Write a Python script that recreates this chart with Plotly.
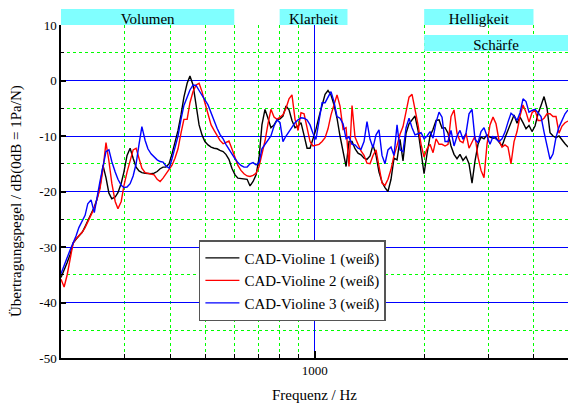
import plotly.graph_objects as go

# Frequency grid (Hz) read along the logarithmic axis
freq_hz = [
    200, 204, 208, 212, 216, 220, 224, 229, 233, 237,
    242, 247, 251, 256, 261, 266, 271, 276, 282, 287,
    293, 298, 304, 310, 316, 322, 328, 334, 341, 347,
    354, 361, 368, 375, 382, 389, 397, 404, 412, 420,
    428, 436, 445, 453, 462, 471, 480, 489, 498, 508,
    518, 528, 538, 548, 559, 569, 580, 591, 603, 614,
    626, 638, 651, 663, 676, 689, 702, 715, 729, 743,
    757, 772, 787, 802, 817, 833, 849, 865, 882, 899,
    916, 934, 952, 970, 988, 1007, 1027, 1047, 1067, 1087,
    1108, 1129, 1151, 1173, 1196, 1219, 1242, 1266, 1290, 1315,
    1340, 1366, 1392, 1419, 1446, 1474, 1502, 1531, 1560, 1590,
    1621, 1652, 1684, 1716, 1749, 1783, 1817, 1852, 1887, 1924,
    1961, 1999, 2037, 2076, 2116, 2157, 2198, 2240, 2283, 2327,
    2371, 2417, 2463, 2510, 2558, 2608, 2658, 2709, 2761, 2814,
    2868, 2923, 2979, 3036, 3095, 3154, 3215, 3276, 3339, 3403,
    3469, 3536, 3604, 3673, 3743, 3815, 3888, 3963, 4039, 4117,
    4196, 4277, 4359, 4442, 4528, 4615, 4703, 4794, 4886, 4979,
]

violine1_db = [
    -35.5, -34.3, -32.8, -31.3, -29.3, -28.6, -28.0, -27.3, -26.3, -25.3,
    -23.8, -22.8, -21.5, -19.2, -15.3, -17.5, -20.3, -21.3, -21.0, -20.2,
    -18.5, -16.5, -13.5, -12.2, -14.0, -15.6, -16.3, -16.6, -16.7, -16.8,
    -16.8, -16.7, -16.4, -15.9, -15.6, -15.6, -15.0, -13.3, -11.2, -9.0,
    -6.2, -3.0, -0.5, 0.8, -0.8, -4.5, -8.0, -9.8, -11.0, -11.6,
    -12.0, -12.2, -12.3, -12.6, -12.8, -13.3, -14.2, -15.8, -17.0, -17.6,
    -17.7, -17.7, -17.8, -19.0, -18.2, -17.0, -14.0, -8.0, -5.2, -6.8,
    -8.5, -8.0, -7.1, -6.9, -6.4, -4.6, -5.3, -7.2, -8.5, -8.2,
    -7.6, -9.9, -12.2, -12.2, -10.7, -8.8, -6.5, -4.3, -2.5, -1.8,
    -2.6, -4.4, -6.8, -10.0, -12.8, -15.5, -11.0, -11.0, -12.3, -13.1,
    -13.4, -14.0, -14.2, -13.6, -11.6, -13.5, -16.5, -18.3, -19.3, -20.0,
    -17.8, -14.0, -14.3, -10.6, -14.5, -9.5, -7.8, -7.0, -6.4, -9.0,
    -12.5, -16.8, -13.2, -10.0, -8.8, -7.2, -7.1, -8.6, -8.5, -9.5,
    -11.8, -13.3, -14.1, -13.3, -14.4, -13.7, -15.0, -18.5, -14.5, -11.5,
    -10.2, -10.5, -9.8, -10.2, -10.4, -10.3, -11.1, -11.8, -10.3, -8.9,
    -7.3, -6.2, -7.7, -6.6, -7.6, -8.7, -8.1, -9.2, -8.2, -6.0,
    -4.5, -2.9, -5.0, -9.4, -10.0, -10.3, -10.0, -10.8, -11.4, -12.0,
]

violine2_db = [
    -35.8, -37.2, -35.0, -32.0, -29.3, -28.5, -28.0, -27.3, -26.5, -25.5,
    -24.5, -23.0, -21.5, -19.5, -16.0, -11.2, -14.5, -18.5, -21.8, -23.1,
    -21.8, -19.0, -16.5, -14.5, -12.5, -12.2, -14.0, -15.8, -16.6, -16.7,
    -16.8, -17.0, -17.8, -18.2, -17.6, -16.9, -16.2, -15.3, -14.0, -12.3,
    -9.5, -7.0, -7.0, -4.0, -2.0, -0.8, -0.5, -2.0, -4.0, -5.8,
    -8.0, -9.0, -9.9, -10.8, -11.4, -11.2, -10.9, -12.3, -14.0, -15.3,
    -16.2, -16.8, -17.2, -17.3, -17.1, -16.7, -15.5, -13.3, -10.9, -7.8,
    -5.2, -6.6, -7.0, -6.6, -6.2, -5.0, -3.3, -2.6, -7.0, -9.0,
    -5.8, -6.0, -8.5, -11.0, -11.8, -11.7, -11.5, -11.0, -10.3, -8.7,
    -6.2, -4.4, -2.6, -4.6, -8.8, -8.5, -15.5, -4.5, -10.2, -11.5,
    -12.7, -13.5, -14.9, -15.0, -13.5, -12.5, -15.5, -18.5, -18.9, -17.8,
    -16.0, -13.5, -11.7, -9.7, -8.3, -5.7, -3.0, -2.5, -5.0, -8.0,
    -11.5, -13.8, -12.3, -11.5, -13.0, -10.5, -11.5, -11.5, -11.8, -11.5,
    -6.5, -5.3, -9.5, -10.9, -11.2, -9.5, -12.2, -11.0, -10.0, -13.8,
    -16.2, -17.5, -11.5, -8.0, -6.6, -7.8, -10.8, -12.0, -11.6, -12.0,
    -15.0, -11.0, -9.2, -6.4, -4.4, -5.7, -7.5, -5.8, -5.3, -7.2,
    -7.2, -6.8, -6.0, -6.0, -6.5, -6.5, -9.5, -8.2, -7.6, -7.3,
]

violine3_db = [
    -34.8, -33.2, -31.9, -30.5, -29.3, -28.0, -26.5, -25.4, -24.3, -22.2,
    -21.5, -23.8, -21.0, -18.2, -15.5, -12.8, -12.5, -14.6, -16.5, -17.8,
    -18.9, -19.3, -19.2, -18.6, -17.2, -15.0, -11.5, -8.3, -10.8, -12.3,
    -13.2, -13.8, -14.3, -14.6, -14.7, -15.4, -15.8, -14.2, -12.3, -10.0,
    -7.0, -4.5, -3.0, -1.7, -0.8, -0.9, -1.8, -2.8, -3.5, -4.4,
    -5.9, -7.3, -8.6, -9.7, -10.5, -11.5, -12.4, -13.3, -14.1, -14.8,
    -15.3, -15.6, -15.6, -15.0, -14.8, -15.2, -14.8, -12.3, -11.5, -10.8,
    -10.0, -8.2, -7.1, -7.6, -11.0, -10.0, -9.2, -8.4, -7.6, -7.1,
    -6.7, -6.8, -7.1, -8.0, -9.5, -10.6, -7.5, -4.0, -4.0, -3.0,
    -2.0, -3.8, -6.5, -6.8, -7.8, -10.5, -10.2, -11.5, -11.6, -12.2,
    -12.4, -11.0, -7.4, -10.6, -12.1, -9.8, -8.9, -13.5, -15.0, -12.5,
    -12.0, -13.5, -8.0, -12.5, -12.8, -8.5, -6.8, -8.5, -9.8, -9.6,
    -9.4, -10.5, -10.0, -9.2, -10.4, -7.5, -5.7, -6.6, -11.0, -11.0,
    -9.0, -11.8, -10.0, -9.0, -10.6, -9.5, -6.0, -5.2, -10.6, -11.2,
    -9.2, -8.5, -10.1, -11.5, -10.1, -10.5, -11.0, -10.5, -9.3, -7.5,
    -5.9, -6.4, -7.2, -5.8, -3.3, -3.8, -5.7, -5.4, -5.2, -5.8,
    -6.5, -9.3, -12.0, -14.2, -13.2, -10.2, -8.4, -7.2, -6.0, -5.3,
]

series_names = ["CAD-Violine 1 (weiß)", "CAD-Violine 2 (weiß)", "CAD-Violine 3 (weiß)"]
series_colors = ["#000000", "#ff0000", "#0000ff"]
series_values = [violine1_db, violine2_db, violine3_db]

y_label_ticks = [-50, -40, -30, -20, -10, 0, 10]
y_label_text = ["-50", "-40", "-30", "-20", "-10", "0", "10"]
y_grid_ticks = [-40, -30, -20, -10, 0]
y_minor_ticks = [-45, -35, -25, -15, -5, 5]
x_major_ticks = [1000]
x_major_labels = ["1000"]
x_minor_ticks = [300, 400, 500, 600, 700, 800, 900, 2000, 3000, 4000]

# Frequency bands: label, start Hz, end Hz, row (0 = above plot, 1 = second row)
band_labels = ["Volumen", "Klarheit", "Helligkeit", "Schärfe"]
band_start = [200, 800, 2000, 2000]
band_end = [600, 1230, 4000, 4980]
band_row = [0, 0, 0, 1]

FONT = "'Liberation Serif', 'Times New Roman', serif"

fig = go.Figure()
# empty helper trace so the labelled primary y axis is drawn
fig.add_trace(go.Scatter(x=[], y=[], mode="lines", showlegend=False, hoverinfo="skip"))
for name, color, vals in zip(series_names, series_colors, series_values):
    fig.add_trace(go.Scatter(x=freq_hz, y=vals, mode="lines", name=name, yaxis="y2",
                             line=dict(color=color, width=1.4)))

row_y = {0: (1.0, 1.048), 1: (0.922, 0.970)}
for lab, x0, x1, r in zip(band_labels, band_start, band_end, band_row):
    y0, y1 = row_y[r]
    fig.add_shape(type="rect", xref="x", yref="paper", x0=x0, x1=x1, y0=y0, y1=y1,
                  fillcolor="#80ffff", line=dict(width=0), layer="above",
                  label=dict(text=lab, font=dict(family=FONT, size=15, color="black"),
                             textposition="middle center"))

fig.add_annotation(text="Übertragungspegel / dB(0dB = 1Pa/N)", xref="paper", yref="paper",
                   x=-0.089, y=0.471, textangle=-90, showarrow=False,
                   font=dict(family=FONT, size=15, color="black"),
                   xanchor="center", yanchor="middle")

fig.update_layout(
    width=568, height=407,
    margin=dict(l=61, r=0, t=25, b=49),
    paper_bgcolor="white", plot_bgcolor="white",
    font=dict(family=FONT, size=13, color="black"),
    showlegend=True,
    legend=dict(x=0.272, y=0.354, xanchor="left", yanchor="top",
                bgcolor="white", bordercolor="#555555", borderwidth=1.5,
                font=dict(family=FONT, size=15, color="black"),
                tracegroupgap=0, itemwidth=34,
                entrywidth=176, entrywidthmode="pixels"),
    xaxis=dict(type="log", range=[2.30103, 3.6971],
               tickmode="array", tickvals=x_major_ticks, ticktext=x_major_labels,
               ticks="inside", ticklen=7, tickwidth=1.5, tickcolor="black",
               showgrid=True, gridcolor="#0000ff", gridwidth=1,
               showline=True, linecolor="black", linewidth=1.5,
               zeroline=False,
               tickfont=dict(family=FONT, size=13),
               title=dict(text="Frequenz / Hz", font=dict(family=FONT, size=15), standoff=12),
               minor=dict(tickmode="array", tickvals=x_minor_ticks, ticks="inside",
                          ticklen=4, tickcolor="black", tickwidth=1.2,
                          showgrid=True, gridcolor="#00ff00", griddash="dot", gridwidth=1)),
    yaxis=dict(range=[-50, 10],
               tickmode="array", tickvals=y_label_ticks, ticktext=y_label_text,
               ticks="inside", ticklen=5, tickwidth=1.5, tickcolor="black",
               showgrid=False,
               showline=True, linecolor="black", linewidth=1.5,
               zeroline=False,
               tickfont=dict(family=FONT, size=13),
               minor=dict(tickmode="array", tickvals=y_minor_ticks, ticks="inside",
                          ticklen=3, tickcolor="black", tickwidth=1.2,
                          showgrid=True, gridcolor="#00ff00", griddash="dot", gridwidth=1)),
    yaxis2=dict(range=[-50, 10], overlaying="y", side="left",
                tickmode="array", tickvals=y_grid_ticks,
                showticklabels=False, ticks="",
                showgrid=True, gridcolor="#0000ff", gridwidth=1,
                showline=False, zeroline=False),
)

fig.write_html("out.html", config={"displayModeBar": False},
               post_script="document.body.style.margin='0';document.body.style.padding='0';")
